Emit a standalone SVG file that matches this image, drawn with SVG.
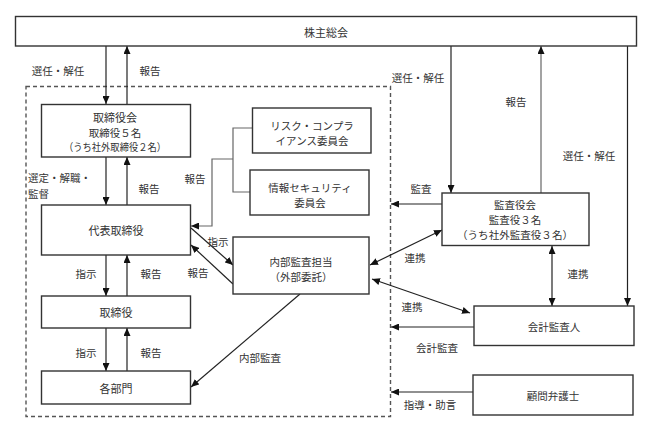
<svg xmlns="http://www.w3.org/2000/svg" width="648" height="430" viewBox="0 0 648 430">
<defs>
<style>
text{font-family:"Noto Sans CJK JP","Noto Sans CJK SC",sans-serif;font-size:10.5px;fill:#333;text-anchor:middle;dominant-baseline:central}
.st{text-anchor:start}
.box{fill:#fff;stroke:#333;stroke-width:1.4}
.ln{fill:none;stroke:#222;stroke-width:1.2}
.gl{fill:none;stroke:#666;stroke-width:1.2}
.dash{fill:none;stroke:#555;stroke-width:1.4;stroke-dasharray:4 3}
</style>
<marker id="ah" viewBox="0 0 8 7" refX="8" refY="3.5" markerWidth="8" markerHeight="7" markerUnits="userSpaceOnUse" orient="auto-start-reverse">
<path d="M0,0 L8,3.5 L0,7 z" fill="#111"/>
</marker>
</defs>
<rect width="648" height="430" fill="#fff"/>
<rect class="dash" x="26" y="86.5" width="364.5" height="330"/>
<g id="connectors">
<line class="ln" x1="106" y1="46" x2="106" y2="104" marker-end="url(#ah)"/>
<line class="ln" x1="127" y1="104" x2="127" y2="46" marker-end="url(#ah)"/>
<line class="ln" x1="106" y1="157" x2="106" y2="205" marker-end="url(#ah)"/>
<line class="ln" x1="127" y1="205" x2="127" y2="157" marker-end="url(#ah)"/>
<line class="ln" x1="106" y1="255" x2="106" y2="296" marker-end="url(#ah)"/>
<line class="ln" x1="127" y1="296" x2="127" y2="255" marker-end="url(#ah)"/>
<line class="ln" x1="106" y1="328" x2="106" y2="371" marker-end="url(#ah)"/>
<line class="ln" x1="127" y1="371" x2="127" y2="328" marker-end="url(#ah)"/>
<polyline class="gl" points="252.5,128 233,128 233,192 250,192"/>
<polyline class="gl" points="233,159 212,159 212,226 191,226" marker-end="url(#ah)"/>
<line class="ln" x1="191" y1="228" x2="233" y2="265" marker-end="url(#ah)"/>
<line class="ln" x1="233" y1="284" x2="191" y2="245" marker-end="url(#ah)"/>
<line class="ln" x1="300" y1="294" x2="191" y2="387" marker-end="url(#ah)"/>
<line class="ln" x1="442" y1="230" x2="370" y2="265" marker-start="url(#ah)" marker-end="url(#ah)"/>
<line class="ln" x1="372" y1="279" x2="470" y2="313" marker-start="url(#ah)" marker-end="url(#ah)"/>
<line class="ln" x1="451" y1="46" x2="451" y2="193" marker-end="url(#ah)"/>
<line class="gl" x1="541" y1="193" x2="541" y2="46" marker-end="url(#ah)"/>
<line class="ln" x1="627.5" y1="46" x2="627.5" y2="306" marker-end="url(#ah)"/>
<line class="ln" x1="552" y1="246" x2="552" y2="306" marker-start="url(#ah)" marker-end="url(#ah)"/>
<line class="ln" x1="442" y1="204" x2="391" y2="204" marker-end="url(#ah)"/>
<line class="ln" x1="474" y1="327" x2="391" y2="327" marker-end="url(#ah)"/>
<line class="ln" x1="473" y1="392" x2="391" y2="392" marker-end="url(#ah)"/>
</g>
<g id="labels">
<text x="58" y="70">選任・解任</text>
<text x="150" y="70">報告</text>
<text x="418" y="77">選任・解任</text>
<text x="516" y="101">報告</text>
<text x="589" y="155">選任・解任</text>
<text class="st" x="28" y="177">選定・解職・</text>
<text class="st" x="28" y="193">監督</text>
<text x="149" y="188">報告</text>
<text x="195" y="178">報告</text>
<text x="421" y="188">監査</text>
<text x="218" y="241">指示</text>
<text x="86" y="273">指示</text>
<text x="151" y="273">報告</text>
<text x="198" y="272">報告</text>
<text x="415" y="257">連携</text>
<text x="578" y="273">連携</text>
<text x="412" y="306">連携</text>
<text x="437" y="347">会計監査</text>
<text x="430" y="404">指導・助言</text>
<text x="86" y="352">指示</text>
<text x="151" y="352">報告</text>
<text x="260" y="357">内部監査</text>
</g>
<g id="kabunushi"><rect class="box" x="15.5" y="16.5" width="621" height="29.5"/><text x="326" y="31.5" style="font-size:11px">株主総会</text></g>
<g id="torishimariyakukai"><rect class="box" x="41.5" y="104.5" width="149" height="52.5"/><text x="115" y="117" style="font-size:11px">取締役会</text><text x="115" y="132">取締役５名</text><text x="115" y="146" textLength="102" lengthAdjust="spacingAndGlyphs">（うち社外取締役２名）</text></g>
<g id="daihyo"><rect class="box" x="41.5" y="205" width="149" height="50"/><text x="116" y="230" style="font-size:11px">代表取締役</text></g>
<g id="torishimariyaku"><rect class="box" x="41.5" y="296" width="149" height="32"/><text x="116" y="312" style="font-size:11px">取締役</text></g>
<g id="kakubumon"><rect class="box" x="41.5" y="371" width="149" height="33"/><text x="116" y="388" style="font-size:11px">各部門</text></g>
<g id="risk"><rect class="box" x="252.5" y="108" width="118.5" height="45"/><text x="312" y="125">リスク・コンプラ</text><text x="312" y="140">イアンス委員会</text></g>
<g id="joho"><rect class="box" x="250" y="170" width="119" height="45"/><text x="310" y="187.5">情報セキュリティ</text><text x="310" y="202">委員会</text></g>
<g id="naibu"><rect class="box" x="233" y="237" width="136" height="57"/><text x="301" y="261">内部監査担当</text><text x="301" y="276">（外部委託）</text></g>
<g id="kansayakukai"><rect class="box" x="442" y="193" width="147" height="52.5"/><text x="515" y="204">監査役会</text><text x="515" y="219">監査役３名</text><text x="515" y="234" textLength="116" lengthAdjust="spacingAndGlyphs">（うち社外監査役３名）</text></g>
<g id="kaikei"><rect class="box" x="474" y="306" width="160" height="39.5"/><text x="554" y="326">会計監査人</text></g>
<g id="komon"><rect class="box" x="473" y="375" width="160" height="40"/><text x="553" y="395">顧問弁護士</text></g>
</svg>
